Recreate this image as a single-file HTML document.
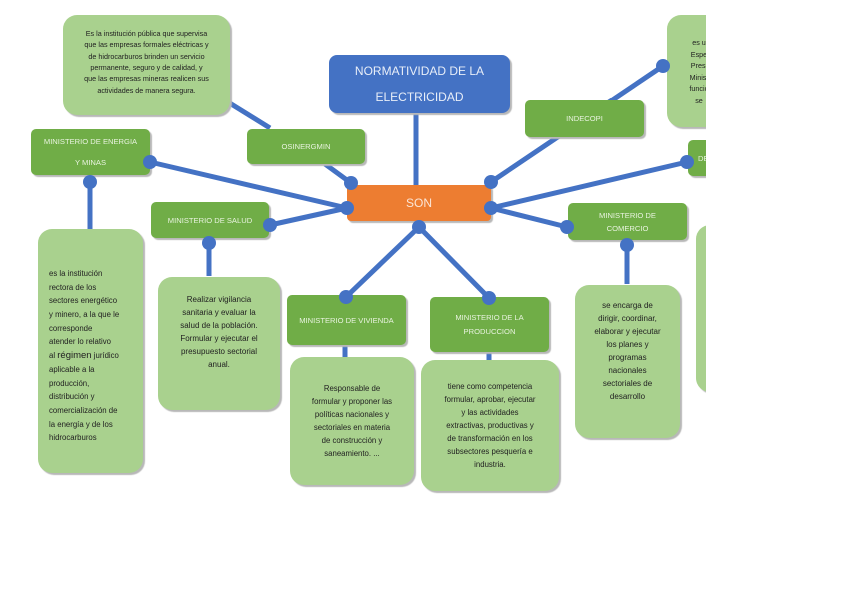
<!DOCTYPE html>
<html><head><meta charset="utf-8"><style>
body{margin:0;background:#fff;width:842px;height:595px;overflow:hidden;font-family:"Liberation Sans",sans-serif}
#c{position:absolute;left:0;top:0;width:706px;height:595px;overflow:hidden}
.b{position:absolute;box-sizing:border-box;display:flex;align-items:center;justify-content:center;text-align:center;box-shadow:2px 2px 1px #b8b8b8;white-space:nowrap}
.g{background:#70ad47;color:#e8f3df;font-size:7.6px;border-radius:5px;line-height:13px}
.l{background:#a9d18e;color:#222;font-size:7.6px;border-radius:14px;line-height:13px;padding:0}
svg{position:absolute;left:0;top:0}
</style></head><body><div id="c">
<svg width="842" height="595">
<g stroke="#4472c4" stroke-width="5" fill="none">
<line x1="416" y1="113" x2="416" y2="186"/>
<line x1="228" y1="102" x2="270" y2="128"/>
<line x1="325" y1="164" x2="351" y2="183"/>
<line x1="150" y1="162" x2="347" y2="208"/>
<line x1="270" y1="225" x2="347" y2="208"/>
<line x1="90" y1="182" x2="90" y2="229"/>
<line x1="209" y1="243" x2="209" y2="276"/>
<line x1="419" y1="227" x2="346" y2="297"/>
<line x1="419" y1="227" x2="489" y2="298"/>
<line x1="491" y1="182" x2="663" y2="66"/>
<line x1="491" y1="208" x2="687" y2="162"/>
<line x1="491" y1="208" x2="567" y2="227"/>
<line x1="627" y1="245" x2="627" y2="284"/>
<line x1="345" y1="344" x2="345" y2="357"/>
<line x1="489" y1="352" x2="489" y2="361"/>
</g>
</svg>
<div class="b l" style="left:63px;top:15px;width:167px;height:100px;font-size:7.2px;line-height:11.3px;padding-bottom:6px"><div>Es la institución pública que supervisa<br>que las empresas formales eléctricas y<br>de hidrocarburos brinden un servicio<br>permanente, seguro y de calidad, y<br>que las empresas mineras realicen sus<br>actividades de manera segura.</div></div>
<div class="b" style="left:329px;top:55px;width:181px;height:58px;background:#4472c4;color:#e8eef8;font-size:12px;line-height:26px;border-radius:8px"><div>NORMATIVIDAD DE LA<br>ELECTRICIDAD</div></div>
<div class="b g" style="left:247px;top:129px;width:118px;height:35px">OSINERGMIN</div>
<div class="b g" style="left:31px;top:129px;width:119px;height:46px;line-height:21px"><div>MINISTERIO DE ENERGIA<br>Y MINAS</div></div>
<div class="b" style="left:347px;top:185px;width:144px;height:36px;background:#ed7d31;color:#fbe5d6;font-size:12px;border-radius:4px">SON</div>
<div class="b g" style="left:151px;top:202px;width:118px;height:36px">MINISTERIO DE SALUD</div>
<div class="b l" style="left:667px;top:15px;width:80px;height:112px;font-size:7.2px;line-height:11.5px;justify-content:flex-start"><div style="position:absolute;left:2px;top:22px;width:60px;text-align:center">es u<br>Espe<br>Presi<br>Minist<br>funcio<br>se</div></div>
<div class="b g" style="left:688px;top:140px;width:60px;height:36px;justify-content:flex-start;padding-left:10px">DE</div>
<div class="b g" style="left:568px;top:203px;width:119px;height:37px"><div>MINISTERIO DE<br>COMERCIO</div></div>
<div class="b l" style="left:696px;top:225px;width:60px;height:167px"></div>
<div class="b l" style="left:38px;top:229px;width:105px;height:244px;text-align:left;justify-content:flex-start;padding:10px 0 0 11px;line-height:13.7px;font-size:7.8px"><div>es la institución<br>rectora de los<br>sectores energético<br>y minero, a la que le<br>corresponde<br>atender lo relativo<br>al <span style="font-size:9.5px">régimen</span> jurídico<br>aplicable a la<br>producción,<br>distribución y<br>comercialización de<br>la energía y de los<br>hidrocarburos</div></div>
<div class="b l" style="left:158px;top:277px;width:122px;height:133px;padding-bottom:24px;font-size:8px;line-height:13px"><div>Realizar vigilancia<br>sanitaria y evaluar la<br>salud de la población.<br>Formular y ejecutar el<br>presupuesto sectorial<br>anual.</div></div>
<div class="b g" style="left:287px;top:295px;width:119px;height:50px">MINISTERIO DE VIVIENDA</div>
<div class="b l" style="left:290px;top:357px;width:124px;height:128px;font-size:7.8px;line-height:13px"><div>Responsable de<br>formular y proponer las<br>políticas nacionales y<br>sectoriales en materia<br>de construcción y<br>saneamiento. ...</div></div>
<div class="b g" style="left:430px;top:297px;width:119px;height:55px;line-height:14px"><div>MINISTERIO DE LA<br>PRODUCCION</div></div>
<div class="b l" style="left:421px;top:360px;width:138px;height:131px;font-size:7.8px;line-height:13px"><div>tiene como competencia<br>formular, aprobar, ejecutar<br>y las actividades<br>extractivas, productivas y<br>de transformación en los<br>subsectores pesquería e<br>industria.</div></div>
<div class="b l" style="left:575px;top:285px;width:105px;height:153px;padding-bottom:22px;font-size:8px;line-height:13px"><div>se encarga de<br>dirigir, coordinar,<br>elaborar y ejecutar<br>los planes y<br>programas<br>nacionales<br>sectoriales de<br>desarrollo</div></div>
<svg width="842" height="595">
<g fill="#4472c4">
<circle cx="351" cy="183" r="7"/><circle cx="347" cy="208" r="7"/>
<circle cx="150" cy="162" r="7"/><circle cx="90" cy="182" r="7"/>
<circle cx="270" cy="225" r="7"/><circle cx="209" cy="243" r="7"/>
<circle cx="419" cy="227" r="7"/><circle cx="346" cy="297" r="7"/>
<circle cx="489" cy="298" r="7"/><circle cx="491" cy="182" r="7"/>
<circle cx="491" cy="208" r="7"/><circle cx="663" cy="66" r="7"/>
<circle cx="687" cy="162" r="7"/><circle cx="567" cy="227" r="7"/>
<circle cx="627" cy="245" r="7"/>
</g>
<line x1="575" y1="124" x2="612" y2="100" stroke="#4472c4" stroke-width="5"/>
</svg>
<div class="b g" style="left:525px;top:100px;width:119px;height:37px">INDECOPI</div>
</div></body></html>
